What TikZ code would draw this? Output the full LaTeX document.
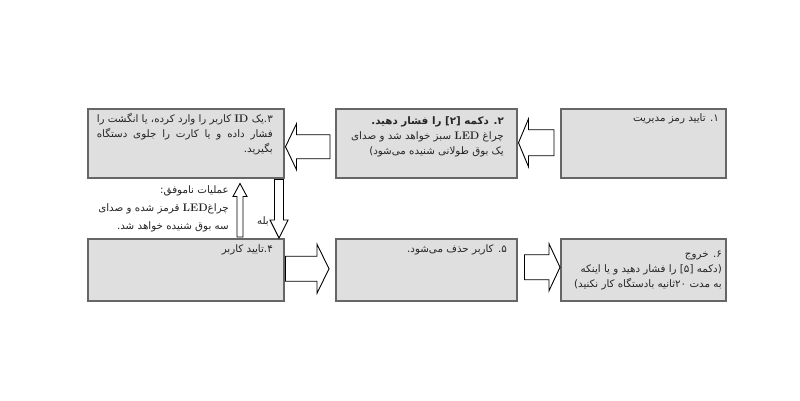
\documentclass[tikz,border=0pt]{standalone}
\usepackage{fontspec}
\newfontfamily\fa[Script=Arabic]{DejaVu Sans}
\TeXXeTstate=1
\usepackage{tikz}
\usetikzlibrary{calc}

\newcommand{\fl}[1]{\beginR #1\endR}
\newcommand{\jl}[1]{\leavevmode\hbox to\linewidth{\beginR #1\endR}}
\newcommand{\lat}[1]{{\rmfamily\bfseries\fontsize{11}{15}\selectfont #1}}
% horizontal and vertical block arrows: tail, tip, shaft half, head half, head length
\newcommand{\harrow}[5]{%
  \draw[blockarrow] ($(#1)+(0,#3)$) -- ($(#2)+(#5,#3)$) -- ($(#2)+(#5,#4)$) -- (#2)
    -- ($(#2)+(#5,-#4)$) -- ($(#2)+(#5,-#3)$) -- ($(#1)+(0,-#3)$) -- cycle;}
\newcommand{\varrow}[5]{%
  \draw[blockarrow] ($(#1)+(#3,0)$) -- ($(#2)+(#3,#5)$) -- ($(#2)+(#4,#5)$) -- (#2)
    -- ($(#2)+(-#4,#5)$) -- ($(#2)+(-#3,#5)$) -- ($(#1)+(-#3,0)$) -- cycle;}

\tikzset{
  flowbox/.style={draw=black!60, line width=1.5pt, fill=gray!25, anchor=north west},
  fatext/.style={font=\fa\fontsize{10.3}{15}\selectfont, inner sep=0pt, align=right, text=black!85},
  blockarrow/.style={draw=black, fill=white, line width=0.9pt, line join=miter},
}

\begin{document}
\begin{tikzpicture}[x=1pt,y=-1pt]
        \fill[white] (0,0) rectangle (800,400);
        \useasboundingbox (0,0) rectangle (800,400);

        \node[flowbox, minimum width=196, minimum height=69] (B3) at (87,108) {};
        \node[flowbox, minimum width=181, minimum height=69] (B2) at (335,108) {};
        \node[flowbox, minimum width=165, minimum height=69] (B1) at (560,108) {};
        \node[flowbox, minimum width=196, minimum height=62] (B4) at (87,238) {};
        \node[flowbox, minimum width=181, minimum height=62] (B5) at (335,238) {};
        \node[flowbox, minimum width=165, minimum height=62] (B6) at (560,238) {};

        \node[fatext, anchor=north east] (T1) at (719,113) {\fl{۱. تایید رمز مدیریت}};
        \node[fatext, anchor=north east] (T2) at (504,116) {%
          \fl{\bfseries ۲. دکمه [۲] را فشار دهید.}\\
          \fl{چراغ \lat{LED} سبز خواهد شد و صدای}\\
          \fl{یک بوق طولانی شنیده می‌شود)}};
        \node[fatext, text width=176, anchor=north east] (T3) at (273,113) {%
          \jl{۳.یک \lat{ID}\hfill کاربر\hfill را\hfill وارد\hfill کرده،\hfill یا\hfill انگشت\hfill را}\\
          \jl{فشار\hfill داده\hfill و\hfill یا\hfill کارت\hfill را\hfill جلوی\hfill دستگاه}\\
          \fl{بگیرید.}};
        \node[fatext, anchor=north east] (T4) at (273,244) {\fl{۴.تایید کاربر}};
        \node[fatext, anchor=north east] (T5) at (507,244) {\fl{۵. کاربر حذف می‌شود.}};
        \node[fatext, anchor=north east] (T6) at (722,251) {%
          \fl{۶. خروج}\\
          \fl{(دکمه [۵] را فشار دهید و یا اینکه}\\
          \fl{به مدت ۲۰ثانیه بادستگاه کار نکنید)}};
        \node[fatext, anchor=north east, font=\fa\fontsize{10.3}{18}\selectfont] (FAIL) at (229,185) {%
          \fl{عملیات ناموفق:}\\
          \fl{چراغ\lat{LED} قرمز شده و صدای}\\
          \fl{سه بوق شنیده خواهد شد.}};

        \coordinate (A12s) at ($(B1.west)+(-6,-0.5)$);
        \coordinate (A12t) at ($(B2.east)+(1,-0.5)$);
        \coordinate (A23s) at ($(B2.west)+(-5,3.5)$);
        \coordinate (A23t) at ($(B3.east)+(1,3.5)$);
        \coordinate (A34s) at ($(B3.south east)+(-5.5,1)$);
        \coordinate (A34t) at ($(B4.north east)+(-5.5,0)$);
        \coordinate (A43s) at ($(B4.north west)+(153,-1)$);
        \coordinate (A43t) at ($(B3.south west)+(153,5)$);
        \coordinate (A45s) at ($(B4.east)+(1,-1)$);
        \coordinate (A45t) at ($(B5.west)+(-6,-1)$);
        \coordinate (A56s) at ($(B5.east)+(7,-2.5)$);
        \coordinate (A56t) at ($(B6.west)+(0,-2.5)$);

        \harrow{A12s}{A12t}{13}{24}{10}
        \harrow{A23s}{A23t}{12}{23}{11}
        \harrow{A45s}{A45t}{12.5}{24.5}{-12}
        \harrow{A56s}{A56t}{12.5}{23.5}{-11}
        \varrow{A34s}{A34t}{4.5}{9}{-18}
        \varrow{A43s}{A43t}{3}{7}{13}

        \node[fatext, anchor=east] (YES) at (269,221) {\fl{بله}};
\end{tikzpicture}
\end{document}
